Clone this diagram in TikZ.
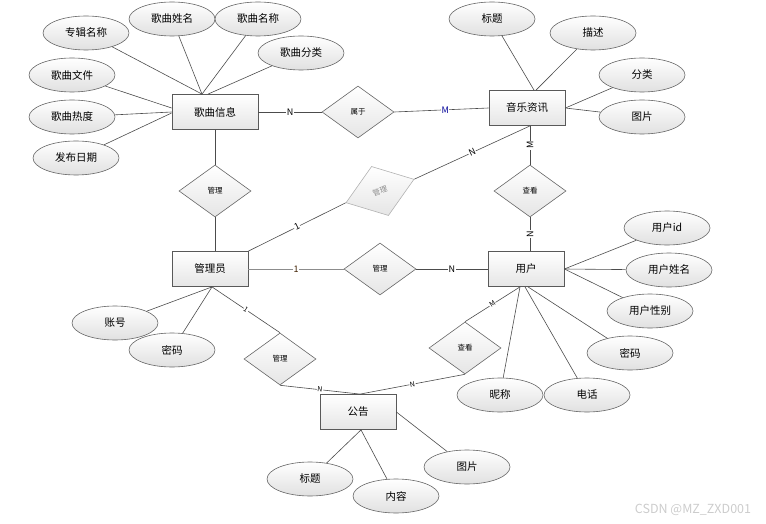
\documentclass[tikz,border=0pt]{standalone}
\usepackage{fontspec}
\setmainfont{Noto Sans CJK SC}
\usetikzlibrary{shapes.geometric}
\tikzset{
	entity/.style={draw=black!65, line width=0.8pt, top color=white, bottom color=black!10,
		minimum width=76pt, minimum height=35pt, inner sep=0pt, font=\fontsize{10.5}{12}\selectfont},
	attr/.style={ellipse, draw=black!60, line width=0.6pt, top color=white, bottom color=black!12,
		minimum width=86pt, minimum height=34pt, inner sep=0pt, font=\fontsize{10.5}{12}\selectfont},
	rel/.style={diamond, draw=black!60, line width=0.6pt, top color=white, bottom color=black!10,
		minimum width=72pt, minimum height=52pt, inner sep=0pt, font=\fontsize{7.5}{8}\selectfont},
	conn/.style={draw=black!70, line width=0.6pt},
	card/.style={fill=white, inner sep=0.6pt, font=\fontsize{9}{9}\selectfont},
	smallcard/.style={card, font=\fontsize{7}{7}\selectfont},
}
\begin{document}
\begin{tikzpicture}[x=1pt,y=-1pt]
		\useasboundingbox (0,0) rectangle (766,524);
		% entities
		\node[entity, minimum width=86pt] (song) at (215,112) {歌曲信息};
		\node[entity] (music) at (527,108) {音乐资讯};
		\node[entity] (admin) at (210,269) {管理员};
		\node[entity] (user) at (526,269) {用户};
		\node[entity] (notice) at (358,412) {公告};
		
		% relations
		\node[rel] (belong) at (358,112) {属于};
		\node[rel] (mgsong) at (215,191) {管理};
		\node[rel, draw=black!30, text=black!45, rotate=19] (mgmusic) at (380,191) {管理};
		\node[rel] (viewmusic) at (530,191) {查看};
		\node[rel] (mguser) at (380,269) {管理};
		\node[rel] (viewnotice) at (465,348) {查看};
		\node[rel] (mgnotice) at (280,359) {管理};
		
		% attributes of song
		\node[attr] (zjmc) at (86,33) {专辑名称};
		\node[attr] (gqxm) at (172,19) {歌曲姓名};
		\node[attr] (gqmc) at (258,19) {歌曲名称};
		\node[attr] (gqfl) at (301,53) {歌曲分类};
		\node[attr] (gqwj) at (72,75) {歌曲文件};
		\node[attr] (gqrd) at (72,117) {歌曲热度};
		\node[attr] (fbrq) at (76,158) {发布日期};
		
		% attributes of music
		\node[attr] (mtitle) at (492,19) {标题};
		\node[attr] (mdesc) at (593,33) {描述};
		\node[attr] (mtype) at (642,75) {分类};
		\node[attr] (mpic) at (642,117) {图片};
		
		% attributes of user
		\node[attr] (uid) at (667,228) {用户id};
		\node[attr] (uname) at (669,270) {用户姓名};
		\node[attr] (usex) at (650,311) {用户性别};
		\node[attr] (upwd) at (630,353) {密码};
		\node[attr] (unick) at (500,395) {昵称};
		\node[attr] (utel) at (587,395) {电话};
		
		% attributes of admin
		\node[attr] (aacc) at (115,323) {账号};
		\node[attr] (apwd) at (172,350) {密码};
		
		% attributes of notice
		\node[attr] (ntitle) at (310,479) {标题};
		\node[attr] (ncont) at (396,496) {内容};
		\node[attr] (npic) at (467,467) {图片};
		
		% attribute lines
		\draw[conn] (zjmc) -- ([xshift=-13pt]song.north);
		\draw[conn] (gqxm) -- ([xshift=-13pt]song.north);
		\draw[conn] (gqmc) -- ([xshift=-13pt]song.north);
		\draw[conn] (gqfl) -- ([xshift=-7pt]song.north);
		\draw[conn] (gqwj) -- ([yshift=4pt]song.west);
		\draw[conn] (gqrd) -- (song.west);
		\draw[conn] (fbrq) -- ([yshift=-1pt]song.west);
		
		\draw[conn] (mtitle) -- ([xshift=7pt]music.north);
		\draw[conn] (mdesc) -- ([xshift=9pt]music.north);
		\draw[conn] (mtype) -- (music.east);
		\draw[conn] (mpic) -- (music.east);
		
		\draw[conn] (uid) -- (user.east);
		\draw[conn] (uname) -- (user.east);
		\draw[conn] (usex) -- (user.east);
		\draw[conn] (upwd) -- ([xshift=2pt]user.south);
		\draw[conn] (utel) -- ([xshift=-1pt]user.south);
		\draw[conn] (unick) -- ([xshift=-6pt]user.south);
		
		\draw[conn] (aacc) -- ([xshift=2pt]admin.south);
		\draw[conn] (apwd) -- ([xshift=2pt]admin.south);
		
		\draw[conn] (ntitle) -- ([xshift=3pt]notice.south);
		\draw[conn] (ncont) -- ([xshift=3pt]notice.south);
		\draw[conn] (npic) -- (notice.east);
		
		% relation lines
		\draw[conn] (song.east) -- node[card] {N} (belong.west);
		\draw[conn] (belong.east) -- node[card, pos=0.54, text=blue!60!black] {M} (music.west);
		\draw[conn] (song.south) -- (mgsong.north);
		\draw[conn] (mgsong.south) -- ([xshift=5pt]admin.north);
		\draw[conn] ([xshift=3pt]music.south) -- node[card, rotate=90] {M} (viewmusic.north);
		\draw[conn] (viewmusic.south) -- node[card, rotate=90] {N} ([xshift=4pt]user.north);
		\draw[conn] ([xshift=3pt]music.south) -- node[card, sloped] {N} (mgmusic.east);
		\draw[conn] (mgmusic.west) -- node[card, sloped] {1} (admin.north east);
		\draw[conn, draw=black!45, line width=1pt] (admin.east) -- node[card, text=black!75!orange] {1} (mguser.west);
		\draw[conn] (mguser.east) -- node[card] {N} (user.west);
		\draw[conn] ([xshift=-6pt]user.south) -- node[smallcard, sloped] {M} (viewnotice.north);
		\draw[conn] (viewnotice.south) -- node[smallcard, sloped] {N} ([xshift=2pt]notice.north);
		\draw[conn] ([xshift=2pt]admin.south) -- node[smallcard, sloped] {1} (mgnotice.north);
		\draw[conn] (mgnotice.south) -- node[smallcard, sloped] {N} ([xshift=2pt]notice.north);
		
		\node[text=black!20, font=\fontsize{12.5}{13}\selectfont] (mark) at (693,510) {CSDN @MZ\_ZXD001};
\end{tikzpicture}
\end{document}
